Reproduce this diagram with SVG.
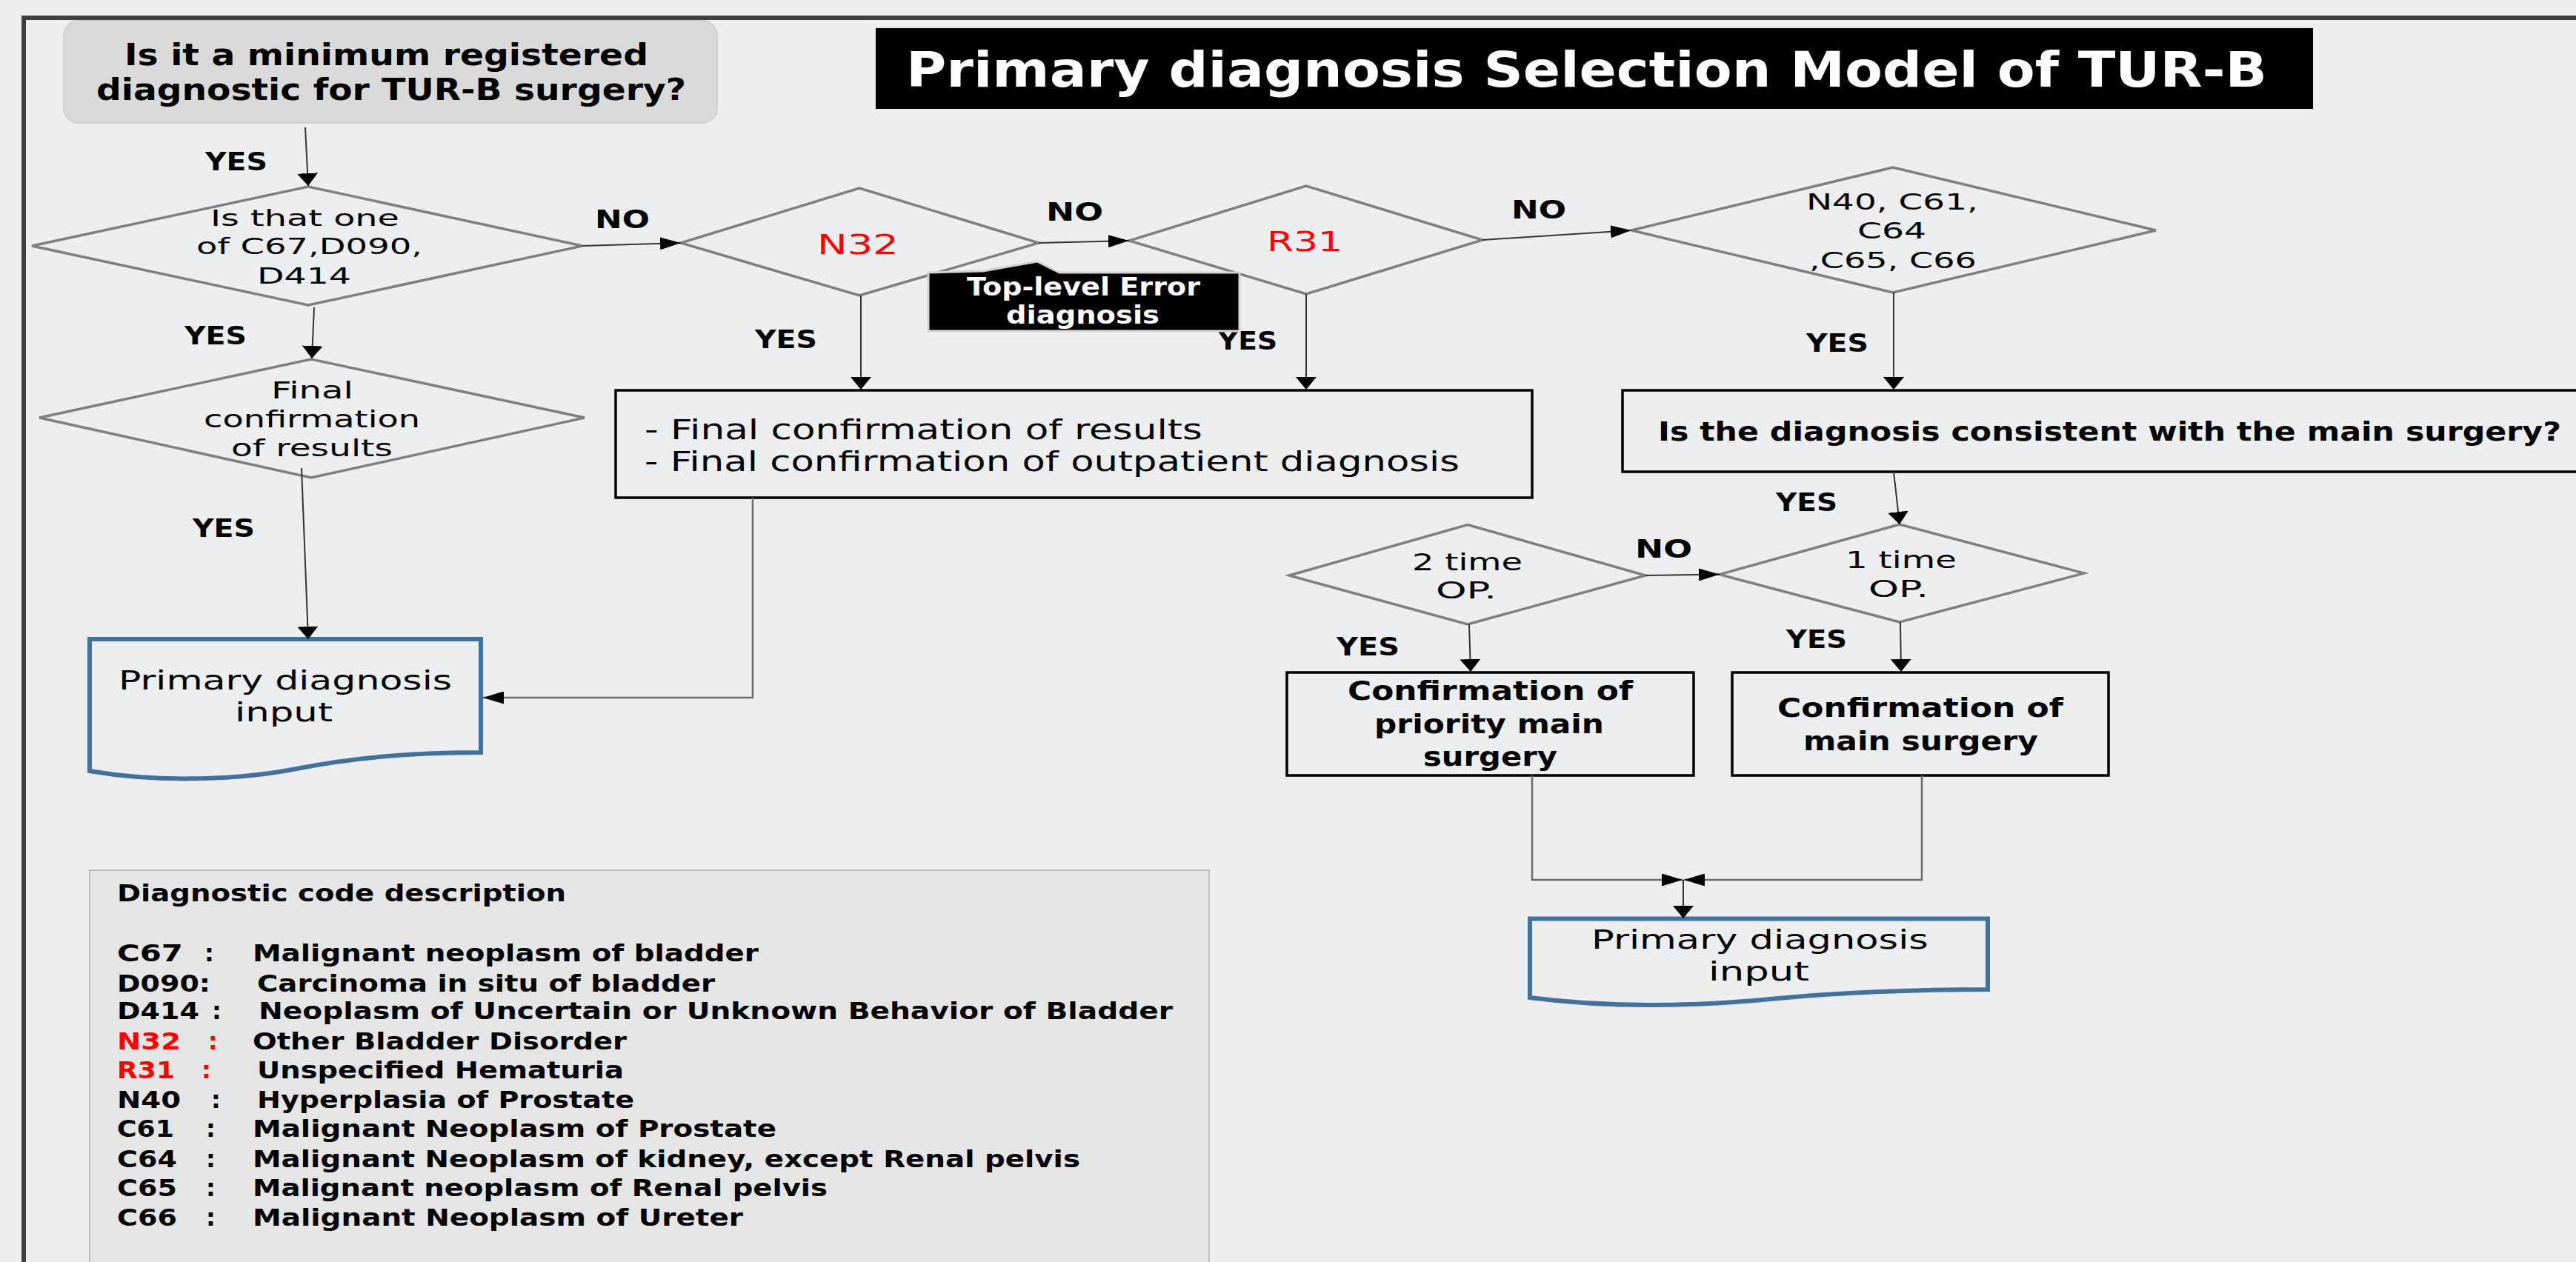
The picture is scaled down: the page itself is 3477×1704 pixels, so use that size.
<svg xmlns="http://www.w3.org/2000/svg" width="3477" height="1704" viewBox="0 0 3477 1704">
<defs>
<style>
text{font-family:"DejaVu Sans","Liberation Sans",sans-serif;fill:#000}
.b{font-weight:bold}
.red{fill:#ff0000}
.w{fill:#ffffff}
.dia{fill:none;stroke:#7f7f7f;stroke-width:3.5}
.box{fill:none;stroke:#000;stroke-width:3.5}
.doc{fill:none;stroke:#41719c;stroke-width:6}
.con{fill:none;stroke:#333;stroke-width:2}
.con2{fill:none;stroke:#6b6b6b;stroke-width:2.5}
.av{marker-end:url(#aV)}
.ah{marker-end:url(#aH)}
.lbl{font-size:34px;font-weight:bold}
.leg{font-size:32px;font-weight:bold}
</style>
<marker id="aV" markerUnits="userSpaceOnUse" markerWidth="17" markerHeight="28" refX="17" refY="14" orient="auto"><path d="M0,0 L17,14 L0,28 Z" fill="#000"/></marker>
<marker id="aH" markerUnits="userSpaceOnUse" markerWidth="28" markerHeight="17" refX="28" refY="8.5" orient="auto"><path d="M0,0 L28,8.5 L0,17 Z" fill="#000"/></marker>
</defs>
<rect x="0" y="0" width="3477" height="1704" fill="#eceef0"/>
<path d="M32,1704 L32,24 L3477,24" fill="none" stroke="#3f3f3f" stroke-width="6"/>

<g id="title">
<rect x="1182" y="38" width="1940" height="109" fill="#000"/>
<text class="b w" x="1223" y="117" font-size="66" textLength="1837" lengthAdjust="spacingAndGlyphs">Primary diagnosis Selection Model of TUR-B</text>
</g>

<g id="start">
<rect x="86" y="28" width="882" height="138" rx="20" fill="#d9d9d9" stroke="#cfcfcf" stroke-width="2"/>
<text class="b" x="168" y="88" font-size="41" textLength="707" lengthAdjust="spacingAndGlyphs">Is it a minimum registered</text>
<text class="b" x="130" y="135" font-size="41" textLength="796" lengthAdjust="spacingAndGlyphs">diagnostic for TUR-B surgery?</text>
</g>

<g id="d1">
<polygon class="dia" points="43,332 416,252 786,332 416,412"/>
<text x="284" y="305" font-size="30" textLength="255" lengthAdjust="spacingAndGlyphs">Is that one</text>
<text x="265" y="343" font-size="30" textLength="305" lengthAdjust="spacingAndGlyphs">of C67,D090,</text>
<text x="347" y="383" font-size="30" textLength="127" lengthAdjust="spacingAndGlyphs">D414</text>
</g>

<g id="final">
<polygon class="dia" points="53,564 420,485 789,564 420,645"/>
<text x="366" y="538" font-size="32" textLength="111" lengthAdjust="spacingAndGlyphs">Final</text>
<text x="275" y="577" font-size="32" textLength="292" lengthAdjust="spacingAndGlyphs">confirmation</text>
<text x="312" y="616" font-size="32" textLength="218" lengthAdjust="spacingAndGlyphs">of results</text>
</g>

<g id="doc1">
<path class="doc" d="M121,863 L649,863 L649,1016 C560,1016 480,1022 400,1038 C330,1052 220,1058 121,1041 Z"/>
<text x="160" y="931" font-size="35" textLength="450" lengthAdjust="spacingAndGlyphs">Primary diagnosis</text>
<text x="317" y="974" font-size="35" textLength="132" lengthAdjust="spacingAndGlyphs">input</text>
</g>

<g id="n32">
<polygon class="dia" points="919,328 1160,254 1402,328 1160,399"/>
<text class="red" x="1103" y="343" font-size="38" textLength="110" lengthAdjust="spacingAndGlyphs">N32</text>
</g>

<g id="r31">
<polygon class="dia" points="1524,325 1763,251 2001,324 1763,397"/>
<text class="red" x="1710" y="339" font-size="38" textLength="102" lengthAdjust="spacingAndGlyphs">R31</text>
</g>

<g id="d4">
<polygon class="dia" points="2202,311 2555,226 2910,311 2555,395"/>
<text x="2438" y="283" font-size="30" textLength="232" lengthAdjust="spacingAndGlyphs">N40, C61,</text>
<text x="2507" y="322" font-size="30" textLength="93" lengthAdjust="spacingAndGlyphs">C64</text>
<text x="2442" y="362" font-size="30" textLength="226" lengthAdjust="spacingAndGlyphs">,C65, C66</text>
</g>

<g id="box2">
<rect class="box" x="831" y="527" width="1237" height="145"/>
<text x="870" y="593" font-size="38" textLength="753" lengthAdjust="spacingAndGlyphs">- Final confirmation of results</text>
<text x="870" y="636" font-size="38" textLength="1100" lengthAdjust="spacingAndGlyphs">- Final confirmation of outpatient diagnosis</text>
</g>

<g id="box3">
<rect class="box" x="2190" y="527" width="1300" height="110"/>
<text class="b" x="2238" y="595" font-size="36" textLength="1219" lengthAdjust="spacingAndGlyphs">Is the diagnosis consistent with the main surgery?</text>
</g>

<g id="t2">
<polygon class="dia" points="1740,777 1981,708.5 2221,777 1981,843"/>
<text x="1906" y="770" font-size="32" textLength="149" lengthAdjust="spacingAndGlyphs">2 time</text>
<text x="1938" y="808" font-size="32" textLength="82" lengthAdjust="spacingAndGlyphs">OP.</text>
</g>

<g id="t1">
<polygon class="dia" points="2321,775.6 2564,708 2813,774 2564,840"/>
<text x="2491" y="767" font-size="32" textLength="150" lengthAdjust="spacingAndGlyphs">1 time</text>
<text x="2522" y="805.5" font-size="32" textLength="81" lengthAdjust="spacingAndGlyphs">OP.</text>
</g>

<g id="priority">
<rect class="box" x="1737" y="908" width="549" height="139"/>
<text class="b" x="1819" y="945" font-size="36" textLength="385" lengthAdjust="spacingAndGlyphs">Confirmation of</text>
<text class="b" x="1855" y="990" font-size="36" textLength="310" lengthAdjust="spacingAndGlyphs">priority main</text>
<text class="b" x="1921" y="1034" font-size="36" textLength="181" lengthAdjust="spacingAndGlyphs">surgery</text>
</g>

<g id="main">
<rect class="box" x="2338" y="908" width="508" height="139"/>
<text class="b" x="2399" y="968" font-size="36" textLength="386" lengthAdjust="spacingAndGlyphs">Confirmation of</text>
<text class="b" x="2434" y="1013" font-size="36" textLength="317" lengthAdjust="spacingAndGlyphs">main surgery</text>
</g>

<g id="doc2">
<path class="doc" d="M2065,1240.6 L2683,1240.6 L2683,1336 C2580,1336 2490,1340 2400,1348 C2300,1358 2180,1362 2065,1347 Z"/>
<text x="2148" y="1281" font-size="35" textLength="455" lengthAdjust="spacingAndGlyphs">Primary diagnosis</text>
<text x="2306" y="1324" font-size="35" textLength="136" lengthAdjust="spacingAndGlyphs">input</text>
</g>

<g id="connectors">
<line class="con av" x1="412" y1="172" x2="416" y2="251"/>
<line class="con ah" x1="786" y1="332" x2="919" y2="328"/>
<line class="con av" x1="424" y1="415" x2="421" y2="484"/>
<line class="con av" x1="407" y1="632" x2="416" y2="863"/>
<line class="con ah" x1="1402" y1="328" x2="1524" y2="325"/>
<line class="con ah" x1="2001" y1="324" x2="2202" y2="311"/>
<line class="con av" x1="1162" y1="399" x2="1162" y2="526"/>
<line class="con av" x1="1763" y1="397" x2="1763" y2="526"/>
<polyline class="con2 ah" points="1016,672 1016,942 652,942"/>
<line class="con av" x1="2556" y1="395" x2="2556" y2="526"/>
<line class="con av" x1="2556" y1="637" x2="2564" y2="708"/>
<line class="con ah" x1="2221" y1="777" x2="2321" y2="775.6"/>
<line class="con av" x1="1983" y1="843" x2="1985" y2="907"/>
<line class="con av" x1="2565" y1="840" x2="2566" y2="907"/>
<polyline class="con2 ah" points="2068,1047 2068,1188 2271,1188"/>
<polyline class="con2 ah" points="2594,1047 2594,1188 2273,1188"/>
<line class="con av" x1="2272" y1="1188" x2="2272" y2="1240"/>
</g>

<g id="labels">
<text class="lbl" x="277" y="230" textLength="84" lengthAdjust="spacingAndGlyphs">YES</text>
<text class="lbl" x="803" y="308" textLength="74" lengthAdjust="spacingAndGlyphs">NO</text>
<text class="lbl" x="249" y="465" textLength="84" lengthAdjust="spacingAndGlyphs">YES</text>
<text class="lbl" x="260" y="725" textLength="84" lengthAdjust="spacingAndGlyphs">YES</text>
<text class="lbl" x="1412" y="298" textLength="77" lengthAdjust="spacingAndGlyphs">NO</text>
<text class="lbl" x="2040" y="295" textLength="74" lengthAdjust="spacingAndGlyphs">NO</text>
<text class="lbl" x="1019" y="470" textLength="84" lengthAdjust="spacingAndGlyphs">YES</text>
<text class="lbl" x="1644" y="472" textLength="80" lengthAdjust="spacingAndGlyphs">YES</text>
<text class="lbl" x="2438" y="475" textLength="84" lengthAdjust="spacingAndGlyphs">YES</text>
<text class="lbl" x="2397" y="690" textLength="83" lengthAdjust="spacingAndGlyphs">YES</text>
<text class="lbl" x="2207" y="753" textLength="77" lengthAdjust="spacingAndGlyphs">NO</text>
<text class="lbl" x="1804" y="885" textLength="85" lengthAdjust="spacingAndGlyphs">YES</text>
<text class="lbl" x="2411" y="875" textLength="82" lengthAdjust="spacingAndGlyphs">YES</text>
</g>

<g id="callout">
<path d="M1253,368 L1327,366 L1400,353 L1430,368 L1673,368 L1673,447 L1253,447 Z" fill="#000" stroke="#d4d4d4" stroke-width="3"/>
<text class="b w" x="1305" y="399" font-size="33" textLength="315" lengthAdjust="spacingAndGlyphs">Top-level Error</text>
<text class="b w" x="1358" y="437" font-size="33" textLength="207" lengthAdjust="spacingAndGlyphs">diagnosis</text>
</g>

<g id="legend">
<rect x="121" y="1175" width="1511" height="560" fill="#e5e5e5" stroke="#bdbdbd" stroke-width="2"/>
<text class="leg" x="158" y="1217" textLength="606" lengthAdjust="spacingAndGlyphs">Diagnostic code description</text>

<text class="leg" x="158" y="1298" textLength="89" lengthAdjust="spacingAndGlyphs">C67</text>
<text class="leg" x="276" y="1298">:</text>
<text class="leg" x="341" y="1298" textLength="683" lengthAdjust="spacingAndGlyphs">Malignant neoplasm of bladder</text>

<text class="leg" x="158" y="1339" textLength="126" lengthAdjust="spacingAndGlyphs">D090:</text>
<text class="leg" x="347" y="1339" textLength="618" lengthAdjust="spacingAndGlyphs">Carcinoma in situ of bladder</text>

<text class="leg" x="158" y="1376" textLength="111" lengthAdjust="spacingAndGlyphs">D414</text>
<text class="leg" x="286" y="1376">:</text>
<text class="leg" x="349" y="1376" textLength="1234" lengthAdjust="spacingAndGlyphs">Neoplasm of Uncertain or Unknown Behavior of Bladder</text>

<text class="leg red" x="158" y="1417" textLength="86" lengthAdjust="spacingAndGlyphs">N32</text>
<text class="leg red" x="281" y="1417">:</text>
<text class="leg" x="341" y="1417" textLength="505" lengthAdjust="spacingAndGlyphs">Other Bladder Disorder</text>

<text class="leg red" x="158" y="1456" textLength="78" lengthAdjust="spacingAndGlyphs">R31</text>
<text class="leg red" x="272" y="1456">:</text>
<text class="leg" x="347" y="1456" textLength="495" lengthAdjust="spacingAndGlyphs">Unspecified Hematuria</text>

<text class="leg" x="158" y="1496" textLength="86" lengthAdjust="spacingAndGlyphs">N40</text>
<text class="leg" x="285" y="1496">:</text>
<text class="leg" x="347" y="1496" textLength="509" lengthAdjust="spacingAndGlyphs">Hyperplasia of Prostate</text>

<text class="leg" x="158" y="1535" textLength="77" lengthAdjust="spacingAndGlyphs">C61</text>
<text class="leg" x="278" y="1535">:</text>
<text class="leg" x="341" y="1535" textLength="707" lengthAdjust="spacingAndGlyphs">Malignant Neoplasm of Prostate</text>

<text class="leg" x="158" y="1576" textLength="81" lengthAdjust="spacingAndGlyphs">C64</text>
<text class="leg" x="278" y="1576">:</text>
<text class="leg" x="341" y="1576" textLength="1117" lengthAdjust="spacingAndGlyphs">Malignant Neoplasm of kidney, except Renal pelvis</text>

<text class="leg" x="158" y="1615" textLength="81" lengthAdjust="spacingAndGlyphs">C65</text>
<text class="leg" x="278" y="1615">:</text>
<text class="leg" x="341" y="1615" textLength="776" lengthAdjust="spacingAndGlyphs">Malignant neoplasm of Renal pelvis</text>

<text class="leg" x="158" y="1655" textLength="81" lengthAdjust="spacingAndGlyphs">C66</text>
<text class="leg" x="278" y="1655">:</text>
<text class="leg" x="341" y="1655" textLength="662" lengthAdjust="spacingAndGlyphs">Malignant Neoplasm of Ureter</text>
</g>
</svg>
